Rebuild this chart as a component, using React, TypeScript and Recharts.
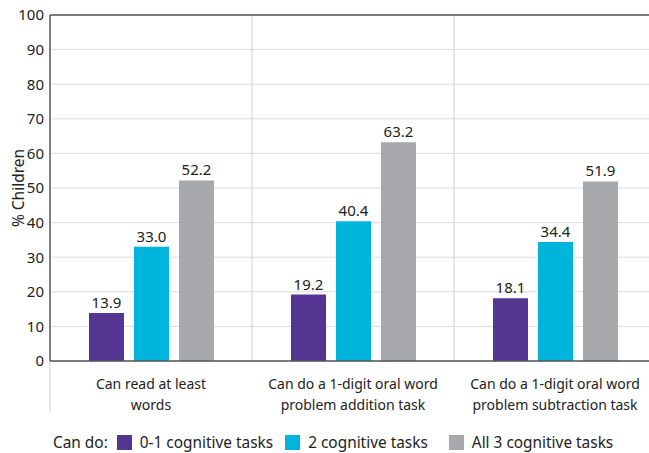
import React from "react";
import {
  BarChart,
  Bar,
  XAxis,
  YAxis,
  CartesianGrid,
  LabelList,
  ReferenceLine,
  Legend,
} from "recharts";

const categories = [
  "Can read at least words",
  "Can do a 1-digit oral word problem addition task",
  "Can do a 1-digit oral word problem subtraction task",
];
const categoryLines = [
  ["Can read at least", "words"],
  ["Can do a 1-digit oral word", "problem addition task"],
  ["Can do a 1-digit oral word", "problem subtraction task"],
];
const low = [13.9, 19.2, 18.1];
const mid = [33.0, 40.4, 34.4];
const high = [52.2, 63.2, 51.9];
const seriesNames = ["0-1 cognitive tasks", "2 cognitive tasks", "All 3 cognitive tasks"];
const seriesColors = ["#553592", "#00b5dc", "#a7a8ac"];
const yTicks = [0, 10, 20, 30, 40, 50, 60, 70, 80, 90, 100];
// category boundaries (in category-index units)
const separators = [0.5, 1.5];
const leftEdge = -0.5;

const data = categories.map((c, i) => ({
  name: c,
  idx: i,
  low: low[i],
  mid: mid[i],
  high: high[i],
}));

const FONT = "'Noto Sans', sans-serif";
const TEXT = "#222";

const CatTick = (props: any) => {
  const { x, y, payload } = props;
  const lines = categoryLines[payload.index] || [String(payload.value)];
  return (
    <g>
      {lines.map((l: string, i: number) => (
        <text
          key={i}
          x={x}
          y={y + 20 + i * 21}
          textAnchor="middle"
          fontFamily={FONT}
          fontSize={14}
          fill={TEXT}
        >
          {l}
        </text>
      ))}
    </g>
  );
};

const gaps = [12, 21, 0];

const LegendContent = () => (
  <div
    style={{
      height: 40,
      display: "flex",
      alignItems: "center",
      paddingTop: 19,
      boxSizing: "border-box",
      paddingLeft: 43,
      fontFamily: FONT,
      fontSize: 15.4,
      color: TEXT,
      whiteSpace: "nowrap",
      lineHeight: "16px",
    }}
  >
    <span style={{ marginRight: 9 }}>Can do:</span>
    {seriesNames.map((n, i) => (
      <span key={n} style={{ display: "flex", alignItems: "center", marginRight: gaps[i] }}>
        <span
          style={{
            display: "inline-block",
            width: 15,
            height: 15,
            background: seriesColors[i],
            marginRight: 8,
          }}
        />
        {n}
      </span>
    ))}
  </div>
);

const fmt = (v: any) => Number(v).toFixed(1);
const labelStyle = { fontFamily: FONT, fontSize: 15, fill: TEXT };

export default function App() {
  return (
    <div
      style={{
        position: "absolute",
        left: 0,
        top: 0,
        width: 649,
        height: 453,
        overflow: "hidden",
        background: "#fff",
      }}
    >
      <BarChart
        width={660}
        height={453}
        data={data}
        margin={{ top: 15, right: 4, left: 10, bottom: 0 }}
        barGap={10}
        barSize={35}
      >
        <CartesianGrid vertical={false} stroke="#dcdcdc" />
        <XAxis
          dataKey="name"
          xAxisId="cat"
          height={52}
          axisLine={{ stroke: "#555", strokeWidth: 1.5 }}
          tickLine={false}
          tick={<CatTick />}
          interval={0}
        />
        <XAxis
          xAxisId="num"
          dataKey="idx"
          type="number"
          domain={[-0.5, 2.5]}
          allowDataOverflow
          hide
        />
        <YAxis
          domain={[0, 100]}
          ticks={yTicks}
          width={40}
          tickSize={0}
          tickMargin={6}
          axisLine={{ stroke: "#555", strokeWidth: 1.5 }}
          tickLine={false}
          tick={{ fontFamily: FONT, fontSize: 15, fill: TEXT }}
          interval={0}
          label={{
            value: "% Children",
            angle: -90,
            position: "insideLeft",
            offset: 8,
            style: { fontFamily: FONT, fontSize: 15.5, fill: TEXT, textAnchor: "middle" },
          }}
        />
        {separators.map((s) => (
          <ReferenceLine key={s} xAxisId="num" x={s} stroke="#d0d0d0" />
        ))}
        <ReferenceLine
          xAxisId="num"
          segment={[
            { x: leftEdge, y: 0 },
            { x: leftEdge, y: -15 },
          ]}
          stroke="#d0d0d0"
          ifOverflow="visible"
        />
        <ReferenceLine xAxisId="num" y={100} stroke="#555" strokeWidth={1.5} />
        <Legend content={<LegendContent />} verticalAlign="bottom" height={40} />
        <Bar xAxisId="cat" dataKey="low" name={seriesNames[0]} fill={seriesColors[0]} isAnimationActive={false}>
          <LabelList dataKey="low" position="top" formatter={fmt} offset={5} style={labelStyle} />
        </Bar>
        <Bar xAxisId="cat" dataKey="mid" name={seriesNames[1]} fill={seriesColors[1]} isAnimationActive={false}>
          <LabelList dataKey="mid" position="top" formatter={fmt} offset={5} style={labelStyle} />
        </Bar>
        <Bar xAxisId="cat" dataKey="high" name={seriesNames[2]} fill={seriesColors[2]} isAnimationActive={false}>
          <LabelList dataKey="high" position="top" formatter={fmt} offset={5} style={labelStyle} />
        </Bar>
      </BarChart>
    </div>
  );
}
